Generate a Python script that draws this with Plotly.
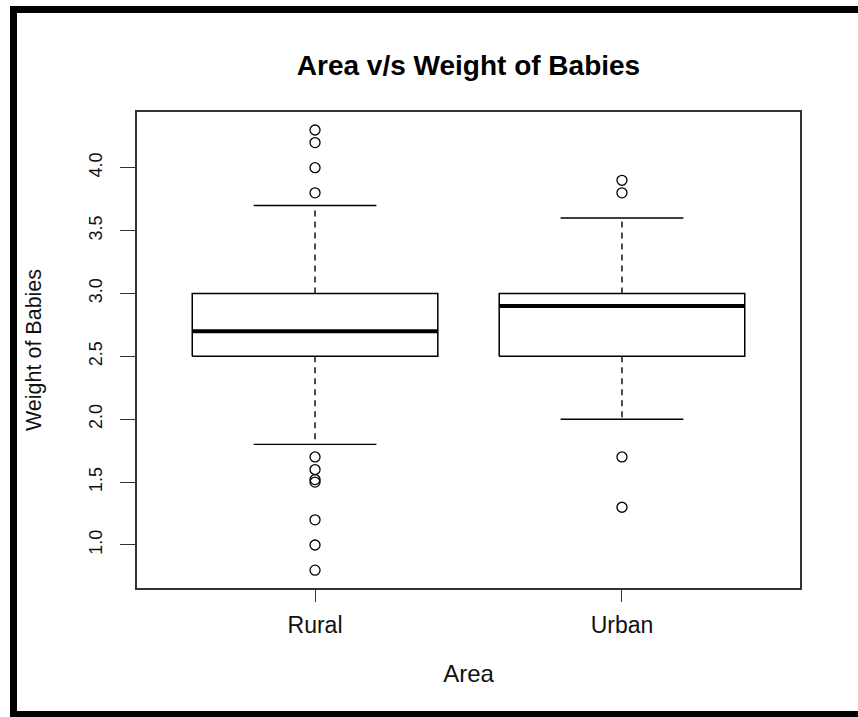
import plotly.graph_objects as go

# ---- data ----
categories = ["Rural", "Urban"]
q1 = [2.5, 2.5]
medians = [2.7, 2.9]
q3 = [3.0, 3.0]
lower_whisker = [1.8, 2.0]
upper_whisker = [3.7, 3.6]
outliers_rural = [4.3, 4.2, 4.0, 3.8, 1.7, 1.6, 1.52, 1.5, 1.2, 1.0, 0.8]
outliers_urban = [3.9, 3.8, 1.7, 1.3]
outliers = [outliers_rural, outliers_urban]
y_ticks = [1.0, 1.5, 2.0, 2.5, 3.0, 3.5, 4.0]

FONT = "Liberation Sans, Arial, Helvetica, sans-serif"
W, H = 858, 717
L, R, T, B = 137, 800, 112, 588  # plot area in pixels

BOX_HALF = 0.4
CAP_HALF = 0.2

box_x, box_y, med_x, med_y = [], [], [], []
wh_x, wh_y, cap_x, cap_y = [], [], [], []
out_x, out_y = [], []
for i, cat in enumerate(categories):
    p = i + 1
    box_x += [p - BOX_HALF, p + BOX_HALF, p + BOX_HALF, p - BOX_HALF, p - BOX_HALF, None]
    box_y += [q1[i], q1[i], q3[i], q3[i], q1[i], None]
    med_x += [p - BOX_HALF, p + BOX_HALF, None]
    med_y += [medians[i], medians[i], None]
    wh_x += [p, p, None, p, p, None]
    wh_y += [q3[i], upper_whisker[i], None, q1[i], lower_whisker[i], None]
    cap_x += [p - CAP_HALF, p + CAP_HALF, None, p - CAP_HALF, p + CAP_HALF, None]
    cap_y += [upper_whisker[i], upper_whisker[i], None, lower_whisker[i], lower_whisker[i], None]
    out_x += [p] * len(outliers[i])
    out_y += outliers[i]

fig = go.Figure()
fig.add_trace(go.Scatter(x=wh_x, y=wh_y, mode="lines",
                         line=dict(color="black", width=1.4, dash="6px,5px"), hoverinfo="skip"))
fig.add_trace(go.Scatter(x=cap_x, y=cap_y, mode="lines",
                         line=dict(color="black", width=1.4), hoverinfo="skip"))
fig.add_trace(go.Scatter(x=box_x, y=box_y, mode="lines",
                         line=dict(color="black", width=1.5), hoverinfo="skip"))
fig.add_trace(go.Scatter(x=med_x, y=med_y, mode="lines",
                         line=dict(color="black", width=4), hoverinfo="skip"))
fig.add_trace(go.Scatter(x=out_x, y=out_y, mode="markers",
                         marker=dict(symbol="circle-open", size=10, color="black",
                                     line=dict(width=1.3, color="black"))))

def px_x(px):
    return (px - L) / (R - L)

def px_y(py):
    return (B - py) / (B - T)

frame = "black"
shapes = [
    dict(type="rect", xref="paper", yref="paper", x0=px_x(10), x1=px_x(17),
         y0=px_y(725), y1=px_y(6), fillcolor=frame, line=dict(width=0)),
    dict(type="rect", xref="paper", yref="paper", x0=px_x(10), x1=px_x(870),
         y0=px_y(13), y1=px_y(6), fillcolor=frame, line=dict(width=0)),
    dict(type="rect", xref="paper", yref="paper", x0=px_x(10), x1=px_x(870),
         y0=px_y(725), y1=px_y(711), fillcolor=frame, line=dict(width=0)),
]

fig.update_layout(
    width=W, height=H,
    margin=dict(l=L, r=W - R, t=T, b=H - B, autoexpand=False),
    paper_bgcolor="white", plot_bgcolor="white",
    showlegend=False,
    font=dict(family=FONT, color="black"),
    title=dict(text="Area v/s Weight of Babies", x=0.5, xref="paper",
               y=1 - 65 / H, yanchor="middle", xanchor="center",
               font=dict(size=28, family=FONT, weight="bold", color="black")),
    shapes=shapes,
)
fig.update_xaxes(
    range=[0.42, 2.58], tickvals=[1, 2], ticktext=categories,
    showgrid=False, zeroline=False,
    showline=True, mirror=True, linecolor="#333333", linewidth=1.6,
    ticks="outside", ticklen=12, tickwidth=1.4, tickcolor="#333333",
    ticklabelstandoff=4,
    tickfont=dict(size=23, family=FONT, color="#111111"),
    title=dict(text="Area", font=dict(size=24, family=FONT, color="#111111"), standoff=28),
)
fig.update_yaxes(
    range=[0.658, 4.443], tickvals=y_ticks, ticktext=[f"{v:.1f}" for v in y_ticks],
    showgrid=False, zeroline=False,
    showline=True, mirror=True, linecolor="#333333", linewidth=1.6,
    ticks="outside", ticklen=15, tickwidth=1.4, tickcolor="#333333",
    tickangle=-90, ticklabelstandoff=11,
    tickfont=dict(size=18, family=FONT, color="#111111"),
    title=dict(text="Weight of Babies", font=dict(size=21.5, family=FONT, color="#111111"), standoff=38),
)

fig.write_html("out.html", config={"displayModeBar": False},
               post_script="document.body.style.margin='0px';")
